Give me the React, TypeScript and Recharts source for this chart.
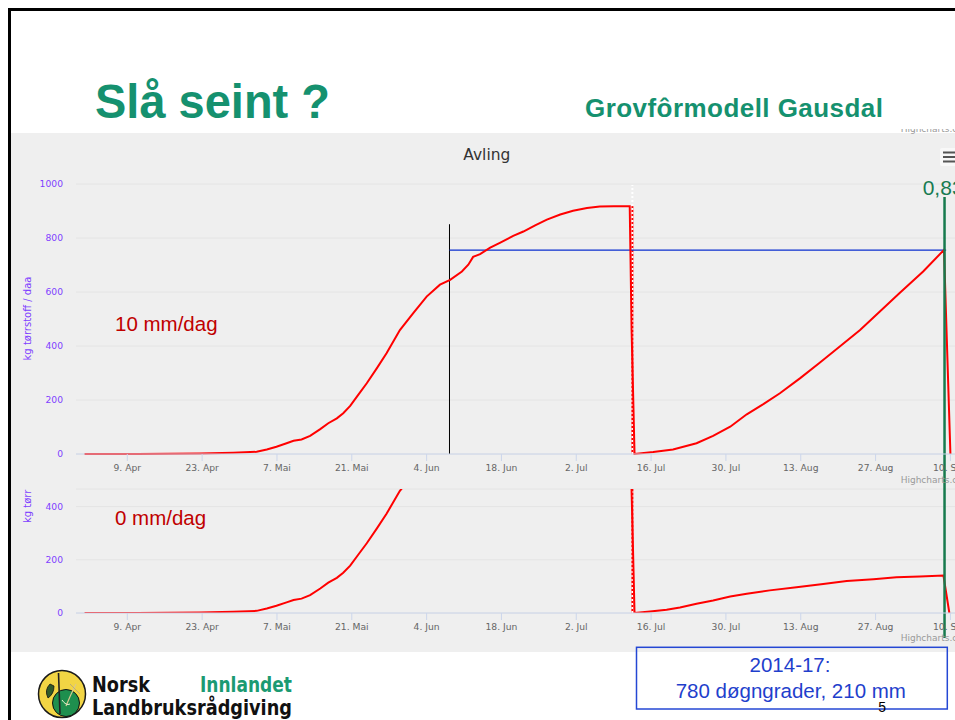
import React from 'react';
import { LineChart, Line, XAxis, YAxis, CartesianGrid, ReferenceLine } from 'recharts';

// ---- data (x = days after 1 April) ----
const TICK_DAYS = [8, 22, 36, 50, 64, 78, 92, 106, 120, 134, 148, 162];
const TICK_LABELS = ['9. Apr', '23. Apr', '7. Mai', '21. Mai', '4. Jun', '18. Jun', '2. Jul', '16. Jul', '30. Jul', '13. Aug', '27. Aug', '10. Sep'];
const TOP_Y_TICKS = [0, 200, 400, 600, 800, 1000];
const BOTTOM_Y_TICKS = [0, 200, 400];

const firstGrowthDay = [0, 10, 21.6, 27.8, 32.2, 34.1, 35.9, 37.8, 39.1, 40.6, 42.2, 44.1, 45.6, 47.2, 48.4, 49.7, 51.2, 52.8, 54.7, 56.5, 59.0, 61.5, 64.0, 66.5, 68.4, 70.6, 71.8, 72.7, 74.0, 75.9, 77.7, 80.2, 82.1, 84.3, 86.5, 89.0, 91.4, 94.0, 96.4, 99.0, 102.0, 102.35, 102.9];
const firstGrowthYield = [0, 0, 2, 5, 8, 17, 27, 40, 49, 54, 67, 92, 114, 132, 151, 178, 219, 262, 318, 373, 459, 522, 583, 627, 645, 676, 701, 730, 740, 764, 782, 808, 824, 847, 868, 887, 901, 911, 917, 918, 918, 459, 0];

const regrowth10Day = [106.4, 110.1, 114.5, 117.6, 120.8, 123.9, 127.0, 130.1, 133.9, 137.6, 141.3, 145.1, 148.8, 152.5, 156.9, 160.8, 162.0];
const regrowth10Yield = [7, 17, 40, 67, 101, 147, 185, 225, 281, 339, 398, 459, 528, 596, 676, 756, 0];

const regrowth0Day = [105.8, 108.9, 111.4, 114.5, 117.6, 120.8, 123.9, 128.2, 133.2, 138.2, 142.6, 147.6, 151.9, 156.3, 160.7, 161.8];
const regrowth0Yield = [6, 12, 21, 35, 47, 62, 72, 85, 97, 109, 120, 127, 134, 137, 141, 0];

// annotation values
const X_DOMAIN = [-1.6, 166.6];
const TOP_Y_DOMAIN = [0, 1000];
const BOTTOM_Y_DOMAIN = [0, 466];
const CUT_DAY = 102.5;
const CUT_LEVEL = 918;
const CUT_DOT_TOP = 996;
const MARK_DAY = 68.28;
const MARK_TOP = 851;
const LEVEL_VALUE = 755;
const LEVEL_END_DAY = 161.2;
const HARVEST_DAY = 160.9;

const series10 = [
  ...firstGrowthDay.map((d, i) => ({ d, v: firstGrowthYield[i] })),
  ...regrowth10Day.map((d, i) => ({ d, v: regrowth10Yield[i] })),
];
const series0 = [
  ...firstGrowthDay.map((d, i) => ({ d, v: firstGrowthYield[i] })),
  ...regrowth0Day.map((d, i) => ({ d, v: regrowth0Yield[i] })),
];

const fmtTick = (v: number) => {
  const i = TICK_DAYS.indexOf(v);
  return i >= 0 ? TICK_LABELS[i] : '';
};

const AXIS_FONT = 'DejaVu Sans, Verdana, sans-serif';
const SLIDE_FONT = 'Liberation Sans, Arial, sans-serif';
const PURPLE = '#8040ff';
const RED = '#ff0000';
const GREEN_LINE = '#177a4e';

function xAxisEl() {
  return (
    <XAxis
      type="number"
      dataKey="d"
      domain={X_DOMAIN}
      allowDataOverflow
      ticks={TICK_DAYS}
      interval={0}
      tickFormatter={fmtTick}
      height={30}
      tickSize={7}
      tickMargin={3}
      axisLine={{ stroke: '#ccd6eb' }}
      tickLine={{ stroke: '#ccd6eb' }}
      tick={{ fill: '#666666', fontSize: 9.2, fontFamily: AXIS_FONT }}
    />
  );
}

function TopChart() {
  return (
    <LineChart width={964} height={352} data={series10} margin={{ top: 52, right: 0, bottom: 0, left: 15 }}>
      <CartesianGrid vertical={false} stroke="#e4e4e4" />
      {xAxisEl()}
      <YAxis
        type="number"
        domain={TOP_Y_DOMAIN}
        ticks={TOP_Y_TICKS}
        interval={0}
        width={50}
        axisLine={false}
        tickLine={false}
        tickSize={6}
        tickMargin={7}
        tick={{ fill: PURPLE, fontSize: 9.2, fontFamily: AXIS_FONT }}
      />
      <ReferenceLine ifOverflow="visible" segment={[{ x: CUT_DAY, y: 0 }, { x: CUT_DAY, y: CUT_LEVEL }]} stroke={RED} strokeWidth={2} />
      <ReferenceLine ifOverflow="visible" segment={[{ x: CUT_DAY, y: 0 }, { x: CUT_DAY, y: CUT_DOT_TOP }]} stroke="#ffffff" strokeWidth={2} strokeDasharray="2 2" />
      <ReferenceLine ifOverflow="visible" segment={[{ x: MARK_DAY, y: 0 }, { x: MARK_DAY, y: MARK_TOP }]} stroke="#000000" strokeWidth={1} />
      <ReferenceLine ifOverflow="visible" segment={[{ x: MARK_DAY, y: LEVEL_VALUE }, { x: LEVEL_END_DAY, y: LEVEL_VALUE }]} stroke="#0a2ecf" strokeWidth={1.3} />
      <Line type="linear" dataKey="v" stroke={RED} strokeWidth={2} dot={false} activeDot={false} isAnimationActive={false} />
      <ReferenceLine ifOverflow="visible" segment={[{ x: HARVEST_DAY, y: 952 }, { x: HARVEST_DAY, y: -112 }]} stroke={GREEN_LINE} strokeWidth={2.5} />
    </LineChart>
  );
}

function BottomChart() {
  return (
    <LineChart width={964} height={159} data={series0} margin={{ top: 5, right: 0, bottom: 0, left: 15 }}>
      <CartesianGrid vertical={false} stroke="#e4e4e4" />
      {xAxisEl()}
      <YAxis
        type="number"
        domain={BOTTOM_Y_DOMAIN}
        allowDataOverflow
        ticks={BOTTOM_Y_TICKS}
        interval={0}
        width={50}
        axisLine={false}
        tickLine={false}
        tickSize={6}
        tickMargin={7}
        tick={{ fill: PURPLE, fontSize: 9.2, fontFamily: AXIS_FONT }}
      />
      <ReferenceLine ifOverflow="visible" segment={[{ x: CUT_DAY, y: 0 }, { x: CUT_DAY, y: 466 }]} stroke={RED} strokeWidth={2} />
      <ReferenceLine ifOverflow="visible" segment={[{ x: CUT_DAY, y: 0 }, { x: CUT_DAY, y: 466 }]} stroke="#ffffff" strokeWidth={2} strokeDasharray="2 2" />
      <Line type="linear" dataKey="v" stroke={RED} strokeWidth={2} dot={false} activeDot={false} isAnimationActive={false} />
      <ReferenceLine ifOverflow="visible" segment={[{ x: HARVEST_DAY, y: 486 }, { x: HARVEST_DAY, y: -94 }]} stroke={GREEN_LINE} strokeWidth={2.5} />
    </LineChart>
  );
}

function Overlay() {
  return (
    <svg width={947} height={712} style={{ position: 'absolute', left: 0, top: 0, pointerEvents: 'none' }}>
      <defs>
        <clipPath id="creditClip">
          <rect x={880} y={129} width={80} height={5} />
        </clipPath>
      </defs>
      <g transform="translate(-8,-8)">
        {/* slide frame */}
        <line x1={8} y1={9.5} x2={960} y2={9.5} stroke="#000" strokeWidth={3} />
        <line x1={9.5} y1={8} x2={9.5} y2={730} stroke="#000" strokeWidth={3} />

        {/* titles */}
        <text x={95} y={117.7} fontFamily={SLIDE_FONT} fontWeight="bold" fontSize={48} fill="#15916f" textLength={235} lengthAdjust="spacingAndGlyphs">Slå seint ?</text>
        <text x={585} y={117.3} fontFamily={SLIDE_FONT} fontWeight="bold" fontSize={26} fill="#15916f" textLength={298} lengthAdjust="spacing">Grovfôrmodell Gausdal</text>

        {/* highcharts bits */}
        <g clipPath="url(#creditClip)">
          <text x={900.7} y={131.5} fontFamily={AXIS_FONT} fontSize={9} fill="#999">Highcharts.com</text>
        </g>
        <text x={463.3} y={160} fontFamily={AXIS_FONT} fontSize={15} fill="#333" textLength={47} lengthAdjust="spacingAndGlyphs">Avling</text>
        <rect x={940} y={148} width={22} height={18} rx={2} fill="#f8f8f8" />
        <line x1={943} y1={152.5} x2={960} y2={152.5} stroke="#555" strokeWidth={2} />
        <line x1={943} y1={157} x2={960} y2={157} stroke="#555" strokeWidth={2} />
        <line x1={943} y1={161.5} x2={960} y2={161.5} stroke="#555" strokeWidth={2} />
        <text x={922.7} y={195} fontFamily={SLIDE_FONT} fontSize={21} fill="#177b52">0,83</text>
        <text x={900.7} y={482.5} fontFamily={AXIS_FONT} fontSize={9} fill="#999">Highcharts.com</text>
        <text x={900.7} y={641} fontFamily={AXIS_FONT} fontSize={9} fill="#999">Highcharts.com</text>

        {/* axis titles */}
        <text x={31} y={318.5} transform="rotate(-90 31 318.5)" textAnchor="middle" fontFamily={AXIS_FONT} fontSize={10} fill={PURPLE}>kg tørrstoff / daa</text>
        <text x={31} y={506.3} transform="rotate(-90 31 506.3)" textAnchor="middle" fontFamily={AXIS_FONT} fontSize={10} fill={PURPLE}>kg tørr</text>

        {/* scenario labels */}
        <text x={115} y={331} fontFamily={SLIDE_FONT} fontSize={20.5} fill="#c00000">10 mm/dag</text>
        <text x={115} y={525} fontFamily={SLIDE_FONT} fontSize={20.5} fill="#c00000">0 mm/dag</text>

        {/* info box */}
        <rect x={636.5} y={647.3} width={310.8} height={61.7} fill="none" stroke="#2447d4" strokeWidth={1.5} />
        <text x={790} y={672.3} textAnchor="middle" fontFamily={SLIDE_FONT} fontSize={20.5} fill="#1f3fcc">2014-17:</text>
        <text x={790.8} y={698.3} textAnchor="middle" fontFamily={SLIDE_FONT} fontSize={20.5} fill="#1f3fcc">780 døgngrader, 210 mm</text>
        <text x={878.3} y={711.7} fontFamily={SLIDE_FONT} fontSize={14} fill="#000">5</text>

        {/* logo */}
        <circle cx={62} cy={694} r={23.5} fill="#f2d544" stroke="#1a1a1a" strokeWidth={1.5} />
        <circle cx={66} cy={703} r={13.5} fill="#1e8f4e" stroke="#111" strokeWidth={1} />
        <line x1={58.5} y1={673} x2={60} y2={714} stroke="#222" strokeWidth={1.6} />
        <path d="M50 684 q-6 6 -2 14 q6 -4 6 -12 z" fill="#2f5a2a" stroke="#111" strokeWidth={0.8} />
        <path d="M66 706 q4 -10 10 -22" stroke="#d9c890" strokeWidth={1.2} fill="none" />
        <path d="M70 684 l10 10" stroke="#bfae77" strokeWidth={1} fill="none" />
        <path d="M62 700 q4 6 8 4" stroke="#e8f0d0" strokeWidth={1} fill="none" />
        <text x={92} y={692} fontFamily={AXIS_FONT} fontWeight="bold" fontSize={21} fill="#111" textLength={58} lengthAdjust="spacingAndGlyphs">Norsk</text>
        <text x={200} y={692} fontFamily={AXIS_FONT} fontWeight="bold" fontSize={21} fill="#1b9a72" textLength={92} lengthAdjust="spacingAndGlyphs">Innlandet</text>
        <text x={92} y={715} fontFamily={AXIS_FONT} fontWeight="bold" fontSize={21} fill="#111" textLength={200} lengthAdjust="spacingAndGlyphs">Landbruksrådgiving</text>
      </g>
    </svg>
  );
}

export default function App() {
  return (
    <div style={{ position: 'absolute', left: 8, top: 8, width: 947, height: 712, overflow: 'hidden', background: '#ffffff' }}>
      <div style={{ position: 'absolute', left: 3, top: 125, width: 944, height: 519, background: '#efefef' }} />
      <div style={{ position: 'absolute', left: 3, top: 124, width: 964, height: 352 }}>
        <TopChart />
      </div>
      <div style={{ position: 'absolute', left: 3, top: 476, width: 964, height: 159 }}>
        <BottomChart />
      </div>
      <Overlay />
    </div>
  );
}
